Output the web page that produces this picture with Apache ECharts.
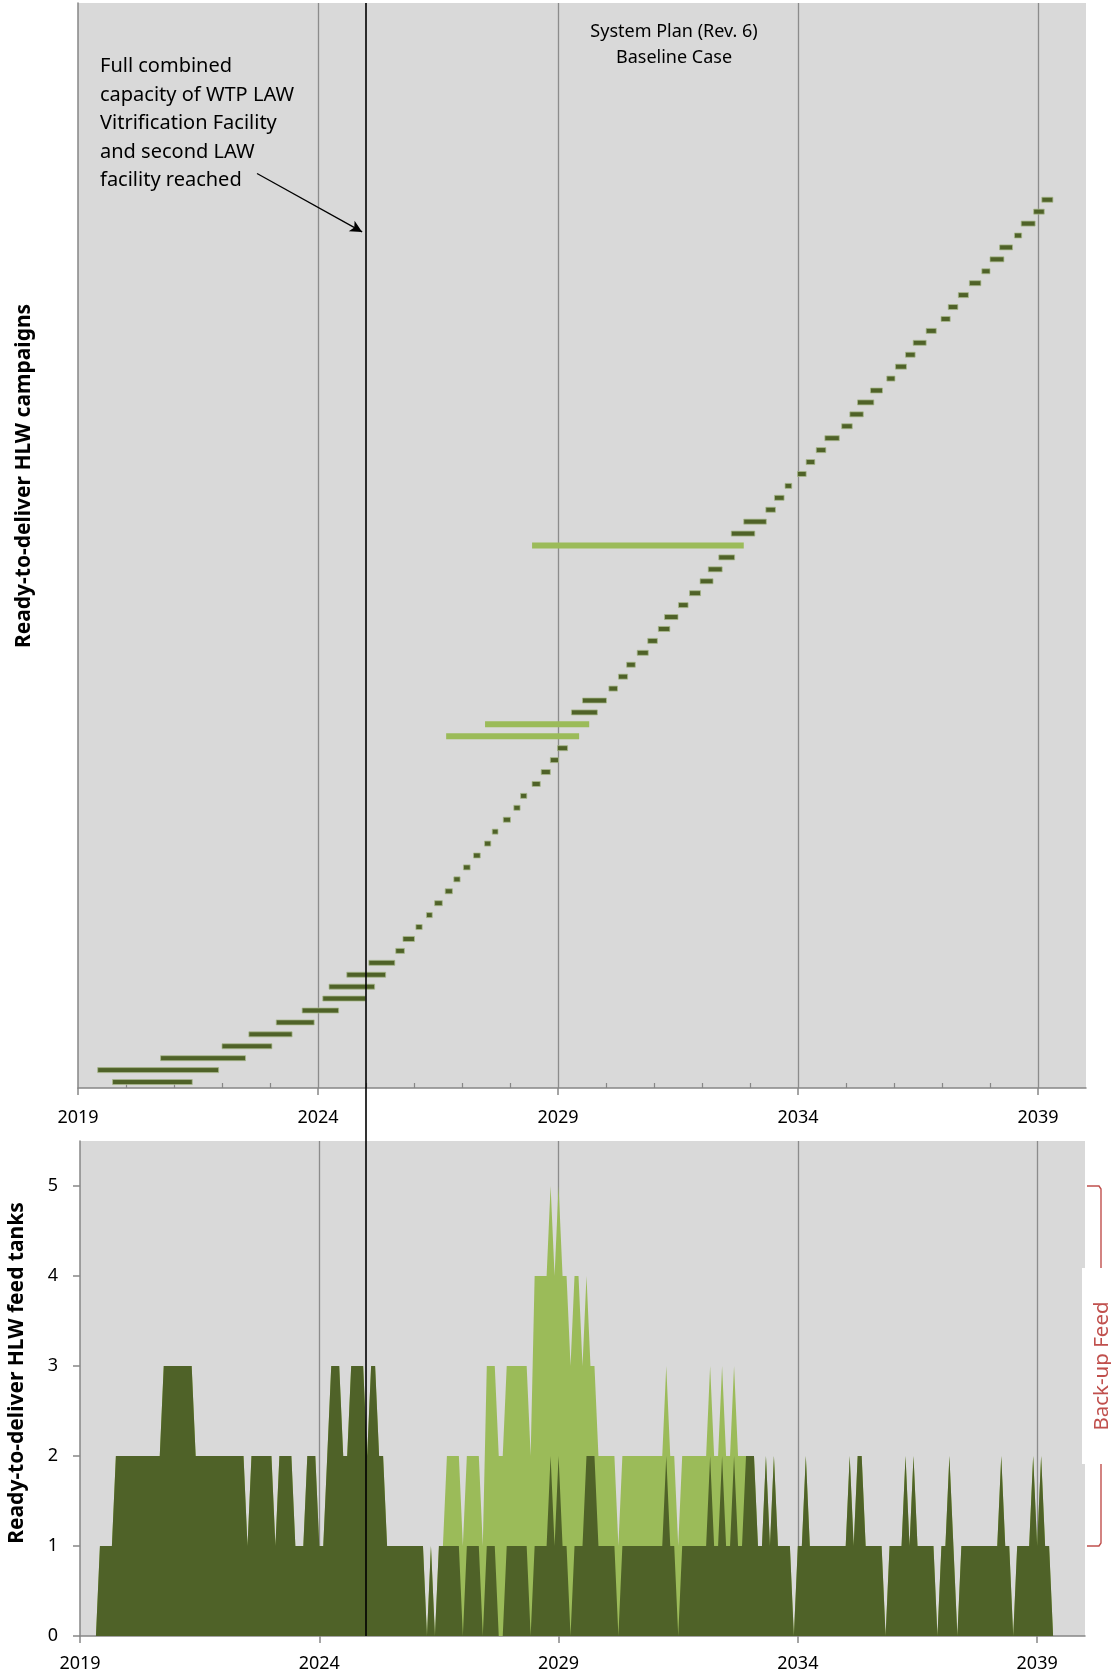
<!DOCTYPE html>
<html>
<head>
<meta charset="utf-8">
<title>Ready-to-deliver HLW campaigns and feed tanks</title>
<script src="https://cdn.jsdelivr.net/npm/echarts@6/dist/echarts.min.js"></script>
<style>
html, body { margin: 0; padding: 0; background: #fff; }
#chart { width: 1111px; height: 1679px; }
</style>
</head>
<body>
<div id="chart"></div>
<script>
// HLW campaigns, in delivery order (row 1 = first campaign), start / end in decimal years
const campStart = [
	2019.72, 2019.41, 2020.72, 2022.00, 2022.56, 2023.13, 2023.67, 2024.10, 2024.23, 2024.60,
	2025.06, 2025.62, 2025.77, 2026.04, 2026.26, 2026.43, 2026.65, 2026.83, 2027.03, 2027.24,
	2027.47, 2027.63, 2027.86, 2028.08, 2028.22, 2028.46, 2028.65, 2028.84, 2028.99, 2026.67,
	2027.48, 2029.28, 2029.51, 2030.06, 2030.26, 2030.43, 2030.65, 2030.87, 2031.09, 2031.22,
	2031.51, 2031.74, 2031.96, 2032.13, 2032.35, 2028.46, 2032.61, 2032.87, 2033.33, 2033.51,
	2033.73, 2033.99, 2034.17, 2034.38, 2034.56, 2034.91, 2035.08, 2035.24, 2035.51, 2035.85,
	2036.03, 2036.24, 2036.40, 2036.67, 2036.98, 2037.13, 2037.34, 2037.57, 2037.83, 2038.00,
	2038.20, 2038.51, 2038.65, 2038.91, 2039.08
];
const campEnd = [
	2021.38, 2021.93, 2022.49, 2023.04, 2023.46, 2023.92, 2024.43, 2024.99, 2025.18, 2025.41,
	2025.60, 2025.80, 2026.01, 2026.17, 2026.38, 2026.59, 2026.80, 2026.96, 2027.17, 2027.38,
	2027.60, 2027.75, 2028.01, 2028.21, 2028.35, 2028.63, 2028.84, 2029.01, 2029.20, 2029.44,
	2029.65, 2029.82, 2030.01, 2030.24, 2030.45, 2030.61, 2030.88, 2031.07, 2031.33, 2031.50,
	2031.71, 2031.97, 2032.23, 2032.42, 2032.68, 2032.87, 2033.10, 2033.34, 2033.53, 2033.71,
	2033.87, 2034.17, 2034.35, 2034.58, 2034.86, 2035.13, 2035.36, 2035.58, 2035.76, 2036.02,
	2036.26, 2036.44, 2036.67, 2036.88, 2037.17, 2037.33, 2037.55, 2037.81, 2038.00, 2038.29,
	2038.47, 2038.66, 2038.94, 2039.13, 2039.31
];
// rows that are back-up feed campaigns
const backupRows = [30, 31, 46];

// ready-to-deliver HLW feed tanks, one value per month from Jan 2019
const firstYear = 2019;
const tanksPrimary = [
	0, 0, 0, 0, 0, 1, 1, 1, 1, 2, 2, 2,   // 2019
	2, 2, 2, 2, 2, 2, 2, 2, 2, 3, 3, 3,   // 2020
	3, 3, 3, 3, 3, 2, 2, 2, 2, 2, 2, 2,   // 2021
	2, 2, 2, 2, 2, 2, 1, 2, 2, 2, 2, 2,   // 2022
	2, 1, 2, 2, 2, 2, 1, 1, 1, 2, 2, 2,   // 2023
	1, 1, 2, 3, 3, 3, 2, 2, 3, 3, 3, 3,   // 2024
	2, 3, 3, 2, 2, 1, 1, 1, 1, 1, 1, 1,   // 2025
	1, 1, 1, 0, 1, 0, 1, 1, 1, 1, 1, 1,   // 2026
	0, 1, 1, 1, 1, 0, 1, 1, 1, 0, 0, 1,   // 2027
	1, 1, 1, 1, 1, 0, 1, 1, 1, 1, 2, 1,   // 2028
	2, 1, 1, 0, 1, 1, 1, 2, 2, 2, 1, 1,   // 2029
	1, 1, 1, 0, 1, 1, 1, 1, 1, 1, 1, 1,   // 2030
	1, 1, 1, 2, 1, 1, 0, 1, 1, 1, 1, 1,   // 2031
	1, 1, 2, 1, 1, 2, 1, 1, 2, 1, 1, 2,   // 2032
	2, 2, 1, 1, 2, 1, 2, 1, 1, 1, 1, 0,   // 2033
	1, 1, 2, 1, 1, 1, 1, 1, 1, 1, 1, 1,   // 2034
	1, 2, 1, 2, 2, 1, 1, 1, 1, 1, 0, 1,   // 2035
	1, 1, 1, 2, 1, 2, 1, 1, 1, 1, 1, 0,   // 2036
	1, 1, 2, 1, 0, 1, 1, 1, 1, 1, 1, 1,   // 2037
	1, 1, 1, 2, 1, 1, 0, 1, 1, 1, 1, 2,   // 2038
	1, 2, 1, 1, 0                         // 2039
];
const tanksBackup = [
	0, 0, 0, 0, 0, 0, 0, 0, 0, 0, 0, 0,   // 2019
	0, 0, 0, 0, 0, 0, 0, 0, 0, 0, 0, 0,   // 2020
	0, 0, 0, 0, 0, 0, 0, 0, 0, 0, 0, 0,   // 2021
	0, 0, 0, 0, 0, 0, 0, 0, 0, 0, 0, 0,   // 2022
	0, 0, 0, 0, 0, 0, 0, 0, 0, 0, 0, 0,   // 2023
	0, 0, 0, 0, 0, 0, 0, 0, 0, 0, 0, 0,   // 2024
	0, 0, 0, 0, 0, 0, 0, 0, 0, 0, 0, 0,   // 2025
	0, 0, 0, 0, 0, 0, 0, 0, 1, 1, 1, 1,   // 2026
	1, 1, 1, 1, 1, 1, 2, 2, 2, 2, 2, 2,   // 2027
	2, 2, 2, 2, 2, 2, 3, 3, 3, 3, 3, 3,   // 2028
	3, 3, 3, 3, 3, 3, 2, 2, 1, 1, 1, 1,   // 2029
	1, 1, 1, 1, 1, 1, 1, 1, 1, 1, 1, 1,   // 2030
	1, 1, 1, 1, 1, 1, 1, 1, 1, 1, 1, 1,   // 2031
	1, 1, 1, 1, 1, 1, 1, 1, 1, 1, 1, 0,   // 2032
	0, 0, 0, 0, 0, 0, 0, 0, 0, 0, 0, 0,   // 2033
	0, 0, 0, 0, 0, 0, 0, 0, 0, 0, 0, 0,   // 2034
	0, 0, 0, 0, 0, 0, 0, 0, 0, 0, 0, 0,   // 2035
	0, 0, 0, 0, 0, 0, 0, 0, 0, 0, 0, 0,   // 2036
	0, 0, 0, 0, 0, 0, 0, 0, 0, 0, 0, 0,   // 2037
	0, 0, 0, 0, 0, 0, 0, 0, 0, 0, 0, 0,   // 2038
	0, 0, 0, 0, 0                         // 2039
];

const yearLabels = [2019, 2024, 2029, 2034, 2039];
const tankTicks = [0, 1, 2, 3, 4, 5];
const capacityYear = 2025;
// arrow of the note: from the text to the vertical line (year, campaign row)
const arrowFrom = [2022.73, 77.2];
const arrowTo = [2024.92, 72.3];

const axisGray = '#868686';
const gridGray = '#8c8c8c';
const darkGreen = '#4f6228';
const lightGreen = '#9bbb59';
const fontName = '"Noto Sans", "DejaVu Sans", sans-serif';

const primaryData = [], backupData = [];
for (let i = 0; i < campStart.length; i++) {
	const row = i + 1;
	const item = [campStart[i], campEnd[i], row];
	if (backupRows.indexOf(row) >= 0) {
		backupData.push(item);
	} else {
		primaryData.push(item);
	}
}
// value x axes stack on x, so the back-up area is drawn as the running total behind the primary one
const primarySeries = tanksPrimary.map((v, i) => [firstYear + i / 12, v]);
const totalSeries = tanksPrimary.map((v, i) => [firstYear + i / 12, v + tanksBackup[i]]);

function barRenderer(height) {
	return function(params, api) {
		const s = api.coord([api.value(0), api.value(2)]);
		const e = api.coord([api.value(1), api.value(2)]);
		return {
			type: 'rect',
			shape: {x: s[0], y: s[1] - height / 2, width: e[0] - s[0], height: height},
			style: api.style()
		};
	};
}

function yearAxis(gridIndex, margin) {
	return {
		type: 'value',
		gridIndex: gridIndex,
		min: 2019,
		max: 2040,
		interval: 5,
		axisLine: {show: true, onZero: false, lineStyle: {color: axisGray, width: 1.5}},
		axisTick: {show: true, length: 7, customValues: yearLabels, lineStyle: {color: axisGray, width: 1.5}},
		minorTick: {show: true, splitNumber: 5, length: -5, lineStyle: {color: axisGray, width: 1.2}},
		axisLabel: {
			margin: margin, color: '#000', fontSize: 18, fontFamily: fontName,
			customValues: yearLabels,
			formatter: v => String(v)
		},
		splitLine: {show: true, showMinLine: false, lineStyle: {color: gridGray, width: 1.3}}
	};
}

const chart = echarts.init(document.getElementById('chart'));

const option = {
	animation: false,
	backgroundColor: '#fff',
	grid: [
		{left: 78, top: 3, width: 1008, height: 1085, show: true, backgroundColor: '#d9d9d9', borderWidth: 0, outerBoundsMode: 'none'},
		{left: 80, top: 1141, width: 1005, height: 495, show: true, backgroundColor: '#d9d9d9', borderWidth: 0, outerBoundsMode: 'none'}
	],
	xAxis: [yearAxis(0, 21), yearAxis(1, 19)],
	yAxis: [
		{
			type: 'value', gridIndex: 0, min: 0.5, max: 91.5,
			axisLine: {show: true, lineStyle: {color: axisGray, width: 1.5}},
			axisTick: {show: false},
			axisLabel: {show: false},
			splitLine: {show: false}
		},
		{
			type: 'value', gridIndex: 1, min: 0, max: 5.5, interval: 1,
			axisLine: {show: true, lineStyle: {color: axisGray, width: 1.5}},
			axisTick: {show: true, length: 7, customValues: tankTicks, lineStyle: {color: axisGray, width: 1.5}},
			axisLabel: {margin: 22, color: '#000', fontSize: 18, fontFamily: fontName, customValues: tankTicks},
			splitLine: {show: false}
		}
	],
	series: [
		{
			name: 'Back-up campaigns',
			type: 'custom',
			xAxisIndex: 0, yAxisIndex: 0,
			renderItem: barRenderer(6),
			itemStyle: {color: lightGreen},
			encode: {x: [0, 1], y: 2},
			data: backupData,
			z: 3
		},
		{
			name: 'HLW campaigns',
			type: 'custom',
			xAxisIndex: 0, yAxisIndex: 0,
			renderItem: barRenderer(5),
			itemStyle: {color: darkGreen, borderColor: 'rgba(170,185,140,0.75)', borderWidth: 1},
			encode: {x: [0, 1], y: 2},
			data: primaryData,
			z: 3
		},
		{
			name: 'note',
			type: 'line',
			xAxisIndex: 0, yAxisIndex: 0,
			data: [],
			markLine: {
				silent: true,
				animation: false,
				symbolSize: [9, 12],
				label: {show: false},
				lineStyle: {color: '#000', width: 1.3, type: 'solid'},
				data: [[
					{coord: arrowFrom, symbol: 'none'},
					{coord: arrowTo, symbol: 'arrow'}
				]]
			}
		},
		{
			name: 'Back-up feed tanks',
			type: 'line',
			xAxisIndex: 1, yAxisIndex: 1,
			symbol: 'none',
			lineStyle: {width: 0},
			areaStyle: {color: lightGreen, opacity: 1},
			data: totalSeries,
			z: 2
		},
		{
			name: 'Ready-to-deliver tanks',
			type: 'line',
			xAxisIndex: 1, yAxisIndex: 1,
			symbol: 'none',
			lineStyle: {width: 0},
			areaStyle: {color: darkGreen, opacity: 1},
			data: primarySeries,
			z: 3
		}
	]
};
chart.setOption(option);

// overlays placed through the axes' own scales
const xCap = chart.convertToPixel({xAxisIndex: 0}, capacityYear);
const yTopEdge = chart.convertToPixel({yAxisIndex: 0}, 91.5);
const yBase = chart.convertToPixel({yAxisIndex: 1}, 0);
const xRight = chart.convertToPixel({xAxisIndex: 1}, 2040);
const y5 = chart.convertToPixel({yAxisIndex: 1}, 5);
const y1 = chart.convertToPixel({yAxisIndex: 1}, 1);
const yMid = (y5 + y1) / 2;
const red = '#c0504d';

chart.setOption({
	graphic: [
		{
			type: 'line', z: 100, silent: true,
			shape: {x1: xCap, y1: yTopEdge, x2: xCap, y2: yBase},
			style: {stroke: '#000', lineWidth: 1.6}
		},
		{
			type: 'text', z: 100, x: 674, y: 19,
			style: {text: 'System Plan (Rev. 6)\nBaseline Case', align: 'center', font: '18px ' + fontName, lineHeight: 26, fill: '#000'}
		},
		{
			type: 'text', z: 100, x: 100, y: 52,
			style: {
				text: 'Full combined\ncapacity of WTP LAW\nVitrification Facility\nand second LAW\nfacility reached',
				font: '20px ' + fontName, lineHeight: 28.6, fill: '#000'
			}
		},
		{
			type: 'text', z: 100, x: 24, y: 476, rotation: Math.PI / 2,
			style: {text: 'Ready-to-deliver HLW campaigns', align: 'center', verticalAlign: 'middle', font: 'bold 21px ' + fontName, fill: '#000'}
		},
		{
			type: 'text', z: 100, x: 17, y: 1373, rotation: Math.PI / 2,
			style: {text: 'Ready-to-deliver HLW feed tanks', align: 'center', verticalAlign: 'middle', font: 'bold 21px ' + fontName, fill: '#000'}
		},
		{
			type: 'polyline', z: 100, silent: true,
			shape: {points: [
				[xRight + 2, y5], [xRight + 14, y5], [xRight + 16, y5 + 3],
				[xRight + 16, y1 - 3], [xRight + 14, y1], [xRight + 2, y1]
			]},
			style: {stroke: red, lineWidth: 1.4, fill: null}
		},
		{
			type: 'rect', z: 101, silent: true,
			shape: {x: xRight - 3, y: yMid - 98, width: 30, height: 196},
			style: {fill: '#fff'}
		},
		{
			type: 'text', z: 102, x: xRight + 17, y: yMid, rotation: Math.PI / 2,
			style: {text: 'Back-up Feed', align: 'center', verticalAlign: 'middle', font: '20.5px ' + fontName, fill: red}
		}
	]
});
</script>
</body>
</html>
